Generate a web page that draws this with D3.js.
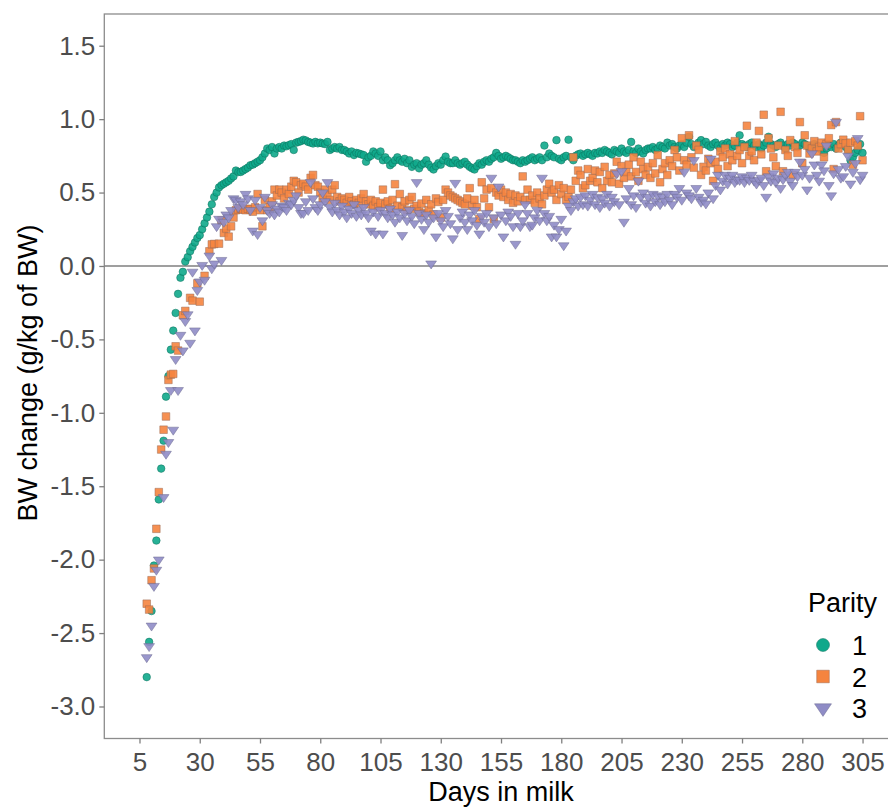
<!DOCTYPE html>
<html>
<head>
<meta charset="utf-8">
<script src="https://cdn.jsdelivr.net/npm/d3@7"></script>
<style>
  body { margin: 0; background: #fff; }
  svg { display: block; font-family: "Liberation Sans", Arial, sans-serif; }
</style>
</head>
<body>
<svg id="chart" width="888" height="808"></svg>
<script>
// days in milk: every series starts on day 8 and runs to day 305
const firstDay = 8;
const lastDay = 305;
const parities = ["1", "2", "3"];
const xTicks = [5, 30, 55, 80, 105, 130, 155, 180, 205, 230, 255, 280, 305];
const yTicks = [-3.0, -2.5, -2.0, -1.5, -1.0, -0.5, 0.0, 0.5, 1.0, 1.5];

// BW change (g/kg of BW), one value per day, null where no point
const parity1 = [
  -2.80,-2.56,-2.35,-2.04,-1.87,-1.59,-1.38,-1.19,-0.89,-0.75,
  -0.57,-0.44,-0.32,-0.19,-0.08,-0.04,0.03,0.06,0.10,0.13,
  0.16,0.19,0.21,0.25,0.29,0.33,0.37,0.42,0.47,0.50,
  0.535,0.55,0.56,0.57,0.58,0.596,0.61,0.65,0.64,0.64,
  0.65,0.66,0.67,0.686,0.69,0.70,0.71,0.72,0.74,0.766,
  0.80,0.79,0.81,0.766,0.80,0.81,0.80,0.82,0.815,0.823,
  0.83,0.79,0.84,0.845,0.85,0.86,0.855,0.845,0.84,0.834,
  0.845,0.835,0.84,0.834,0.83,0.845,0.79,0.80,0.81,0.80,
  0.81,0.79,0.79,0.78,0.766,0.78,0.755,0.77,0.766,0.76,
  0.755,0.71,0.74,0.75,0.78,0.766,0.75,0.78,0.72,0.74,
  0.72,0.686,0.70,0.72,0.74,0.72,0.71,0.73,0.70,0.72,
  0.675,0.69,0.70,0.665,0.69,0.70,0.72,0.69,0.67,0.657,
  0.68,0.70,0.69,0.72,0.745,0.71,0.70,0.70,0.72,0.70,
  0.69,0.70,0.71,0.69,0.675,0.665,0.657,0.68,0.70,0.69,
  0.71,0.72,0.71,0.73,0.74,0.77,0.75,0.73,0.74,0.75,
  0.74,0.73,0.72,0.72,0.71,0.70,0.72,0.71,0.72,0.73,
  0.74,0.72,0.73,0.74,0.72,0.82,0.74,0.766,0.75,0.74,
  0.857,0.73,0.72,0.74,0.75,0.86,0.74,0.72,0.75,0.76,
  0.766,0.75,0.76,0.77,0.76,0.75,0.77,0.766,0.78,0.77,
  0.79,0.78,0.77,0.76,0.79,0.78,0.77,0.80,0.78,0.77,
  0.79,0.845,0.78,0.77,0.80,0.78,0.766,0.79,0.80,0.80,
  0.81,0.79,0.80,0.82,0.81,0.80,0.84,0.82,0.83,0.81,
  0.80,0.82,0.83,0.81,0.84,0.88,0.83,0.81,0.82,0.84,
  0.857,0.83,0.845,0.82,0.81,0.83,0.84,0.82,0.80,0.83,
  0.82,0.84,0.83,0.81,0.82,0.84,0.89,0.83,0.82,0.81,
  0.83,0.84,0.82,0.81,0.83,0.80,0.82,0.84,0.88,0.83,
  0.82,0.81,0.83,0.84,0.82,0.80,0.83,0.82,0.84,0.83,
  0.81,0.82,0.84,0.83,0.82,0.80,0.81,0.83,0.82,0.81,
  0.79,0.77,0.80,0.82,0.81,0.83,0.80,0.82,0.84,0.83,
  0.81,0.79,0.72,0.74,0.77,0.79,0.83,0.77
];

const parity2 = [
  -2.30,-2.34,-2.14,-2.06,-1.79,-1.54,-1.25,-1.115,-1.025,-0.776,
  -0.74,-0.735,-0.547,-0.576,null,-0.336,-0.306,null,-0.217,-0.236,
  null,-0.118,-0.243,null,-0.067,null,0.10,0.147,0.15,null,
  0.152,0.31,0.225,0.255,0.20,0.27,0.33,0.38,0.385,0.39,
  0.385,0.38,0.39,0.385,0.37,0.40,0.49,0.38,0.27,0.45,
  0.38,0.40,0.44,0.52,0.48,0.52,0.50,0.46,0.52,0.49,
  0.54,0.58,0.57,0.50,0.55,0.56,0.54,0.52,0.60,0.62,
  0.55,0.54,0.50,0.46,0.52,0.48,0.45,0.52,0.55,0.47,
  0.44,0.46,0.45,0.43,0.47,0.44,0.42,0.45,0.43,0.46,
  0.49,0.44,0.42,0.45,0.41,0.44,0.40,0.43,0.52,0.42,
  0.44,0.39,0.45,0.557,0.41,0.49,0.40,0.44,0.38,0.45,
  0.47,0.39,0.41,0.37,0.425,0.36,0.45,0.38,0.42,0.35,
  0.46,0.436,0.33,0.45,0.52,0.50,0.48,0.47,0.46,0.45,
  0.44,0.43,0.42,0.46,0.53,0.41,0.45,0.40,0.32,0.57,
  0.46,0.52,0.40,0.53,0.32,0.50,0.48,0.52,0.47,0.50,
  0.45,0.49,0.43,0.48,0.44,0.47,0.61,0.45,0.52,0.45,
  0.48,0.43,0.50,0.46,0.42,0.48,0.52,0.56,0.50,0.52,
  0.45,0.55,0.49,0.53,0.45,0.47,0.52,0.74,0.58,0.65,
  0.62,0.53,0.55,0.66,0.58,0.60,0.65,0.57,0.64,0.53,
  0.675,0.58,0.62,0.57,0.63,0.71,0.56,0.68,0.60,0.64,
  0.69,0.61,0.74,0.64,0.58,0.71,0.66,0.62,0.675,0.60,
  0.70,0.63,0.755,0.57,0.66,0.70,0.62,0.72,0.68,0.79,
  0.74,0.65,0.87,0.72,0.69,0.89,0.74,0.67,0.82,0.79,
  0.62,0.675,0.65,0.73,0.70,0.58,0.71,0.66,0.78,0.74,
  0.80,0.68,0.76,0.72,0.85,0.75,0.79,0.70,0.81,0.955,
  0.75,0.78,0.72,0.84,0.92,0.76,1.03,0.645,0.87,0.80,
  0.74,0.68,0.82,1.05,0.645,0.79,0.75,0.857,0.62,0.81,
  0.77,0.98,0.70,0.89,0.82,0.766,0.80,0.85,0.78,0.81,
  0.84,0.74,0.83,0.87,0.96,0.66,0.98,0.80,0.83,0.86,
  0.835,0.79,0.84,0.69,0.85,0.82,1.02,0.72
];

const parity3 = [
  -2.665,-2.59,-2.45,-2.18,-2.07,-2.0,null,-1.575,-1.28,-1.20,
  -0.846,-1.116,-0.635,-0.846,-0.47,-0.576,-0.376,-0.33,-0.524,-0.04,
  -0.44,-0.165,-0.106,0.006,-0.095,null,0.07,-0.017,0.016,0.27,
  0.32,0.04,0.30,0.35,0.33,0.38,0.46,0.45,0.40,0.44,
  0.42,0.49,0.46,0.38,0.24,0.45,0.216,0.40,0.31,0.47,
  0.38,0.36,0.42,0.35,0.39,0.37,0.41,0.40,0.38,0.43,
  0.42,0.45,0.48,0.40,0.36,0.36,0.44,0.38,0.57,0.46,
  0.40,0.38,0.42,0.50,0.44,0.57,0.40,0.37,0.43,0.38,
  0.35,0.41,0.37,0.33,0.39,0.36,0.42,0.34,0.38,0.35,
  0.40,0.36,0.33,0.24,0.37,0.22,0.34,0.38,0.22,0.36,
  0.33,0.39,0.35,0.30,0.37,0.33,0.21,0.36,0.31,0.38,
  0.34,0.29,0.57,0.36,0.32,0.25,0.35,0.30,0.016,0.33,
  0.20,0.36,0.31,0.27,0.38,0.34,0.29,0.187,0.565,0.25,
  0.33,0.37,0.30,0.25,0.35,0.31,0.38,0.28,0.22,0.34,
  0.30,0.36,0.27,0.60,0.33,0.29,0.54,0.35,0.20,0.31,
  0.37,0.34,0.27,0.15,0.36,0.27,0.31,0.42,0.36,0.27,
  0.28,0.33,0.38,0.31,0.60,0.36,0.31,0.34,0.20,0.28,
  0.20,0.25,0.32,0.14,0.24,0.41,0.38,0.44,0.46,0.41,
  0.47,0.42,0.48,0.41,0.45,0.49,0.42,0.47,0.40,0.46,
  0.43,0.49,0.41,0.47,0.44,0.63,0.42,0.645,0.30,0.46,
  0.53,0.42,0.48,0.40,0.58,0.47,0.50,0.43,0.47,0.41,
  0.49,0.44,0.48,0.42,0.47,0.44,0.49,0.45,0.42,0.49,
  0.47,0.53,0.45,0.64,0.50,0.48,0.46,0.72,0.53,0.47,
  0.436,0.45,0.425,0.50,0.73,0.46,0.55,0.62,0.52,0.58,
  0.62,0.56,0.60,0.62,0.57,0.59,0.585,0.61,0.57,0.60,
  0.585,0.62,0.58,0.56,0.585,0.60,0.55,0.47,0.61,0.58,
  0.63,0.57,0.60,0.53,0.59,0.62,0.64,0.58,0.55,0.64,
  0.61,0.71,0.62,0.66,0.52,0.60,0.766,0.69,0.62,0.58,
  0.69,0.65,0.82,0.55,0.48,0.63,0.98,0.66,0.60,0.61,
  0.68,0.75,0.56,0.64,0.70,0.87,0.59,0.62
];

const fills = { "1": "#10a88b", "2": "#f5843f", "3": "#8f8cc6" };
const strokes = { "1": "#0b6e5a", "2": "#9a6a55", "3": "#6c6a8e" };

const svg = d3.select("#chart");

const panel = { left: 104.3, top: 14, right: 898.7, bottom: 738.5 };

const x = d3.scaleLinear().domain([-9.6, 320]).range([panel.left, panel.right]);
const y = d3.scaleLinear().domain([-3.218, 1.716]).range([panel.bottom, panel.top]);

// build long table from the arrays
const series = [parity1, parity2, parity3];
const points = [];
series.forEach((vals, i) => {
  vals.forEach((v, j) => {
    if (v !== null) points.push({ parity: parities[i], day: firstDay + j, value: v });
  });
});

// panel border
svg.append("rect")
  .attr("x", panel.left).attr("y", panel.top)
  .attr("width", panel.right - panel.left).attr("height", panel.bottom - panel.top)
  .attr("fill", "none").attr("stroke", "#8c8c8c").attr("stroke-width", 1.3);

// zero reference line
svg.append("line")
  .attr("x1", panel.left).attr("x2", panel.right)
  .attr("y1", y(0)).attr("y2", y(0))
  .attr("stroke", "#7f7f7f").attr("stroke-width", 1.5);

// axes
const xAxis = svg.append("g")
  .attr("transform", `translate(0,${panel.bottom})`)
  .call(d3.axisBottom(x).tickValues(xTicks).tickSize(5).tickPadding(5).tickFormat(d => d));
const yAxis = svg.append("g")
  .attr("transform", `translate(${panel.left},0)`)
  .call(d3.axisLeft(y).tickValues(yTicks).tickSize(5).tickPadding(4).tickFormat(d => d.toFixed(1)));

[xAxis, yAxis].forEach(a => {
  a.select(".domain").remove();
  a.selectAll(".tick line").attr("stroke", "#7f7f7f").attr("stroke-width", 1.3);
  a.selectAll(".tick text").attr("fill", "#4d4d4d").style("font-size", "26px");
});
xAxis.selectAll(".tick text").attr("dy", "0.85em");

// markers
function markerPath(p, s) {
  if (p === "1") return d3.symbol(d3.symbolCircle, Math.PI * s * s)();
  if (p === "2") return `M${-s},${-s}H${s}V${s}H${-s}Z`;
  const h = s * 1.7;
  return `M${-s * 1.15},${-h / 3}H${s * 1.15}L0,${h * 2 / 3}Z`;
}
const sizes = { "1": 3.8, "2": 3.8, "3": 4.7 };

svg.append("g")
  .selectAll("path")
  .data(points)
  .join("path")
  .attr("transform", d => `translate(${x(d.day)},${y(d.value)})`)
  .attr("d", d => markerPath(d.parity, sizes[d.parity]))
  .attr("fill", d => fills[d.parity])
  .attr("fill-opacity", 0.9)
  .attr("stroke", d => strokes[d.parity])
  .attr("stroke-opacity", 0.7)
  .attr("stroke-width", 0.7);

// axis titles
svg.append("text")
  .attr("x", x(155)).attr("y", 801)
  .attr("text-anchor", "middle")
  .style("font-size", "27px")
  .attr("fill", "#000")
  .text("Days in milk");

svg.append("text")
  .attr("transform", `translate(37,373) rotate(-90)`)
  .attr("text-anchor", "middle")
  .style("font-size", "27px")
  .attr("fill", "#000")
  .text("BW change (g/kg of BW)");

// legend
const legend = svg.append("g");
legend.append("text")
  .attr("x", 808).attr("y", 612)
  .style("font-size", "27px")
  .text("Parity");
const legendSizes = { "1": 6.5, "2": 6.3, "3": 7.4 };
parities.forEach((p, i) => {
  const cy = 645 + i * 31.5;
  legend.append("path")
    .attr("transform", `translate(823,${cy})`)
    .attr("d", markerPath(p, legendSizes[p]))
    .attr("fill", fills[p])
    .attr("stroke", strokes[p])
    .attr("stroke-opacity", 0.6)
    .attr("stroke-width", 0.8);
  legend.append("text")
    .attr("x", 852).attr("y", cy + 10)
    .style("font-size", "27px")
    .text(p);
});
</script>
</body>
</html>
